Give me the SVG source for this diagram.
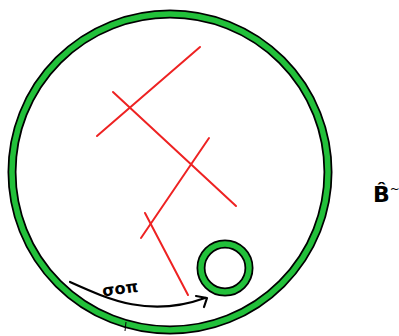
<svg xmlns="http://www.w3.org/2000/svg" width="399" height="336" viewBox="0 0 399 336">
<style>
.ring{fill:none;stroke:#000;stroke-width:9}
.ringin{fill:none;stroke:#22c03a;stroke-width:5.5}
.red{stroke:#ee2222;stroke-width:2;fill:none;stroke-linecap:round}
.ink{fill:none;stroke:#000;stroke-width:2.2;stroke-linecap:round;stroke-linejoin:round}
.lbl{font-family:"DejaVu Sans",sans-serif;font-weight:bold;fill:#000}
</style>
<rect width="399" height="336" fill="#fff"/>
<g id="outer-ring">
<circle cx="170" cy="172" r="158" class="ring"/>
<circle cx="170" cy="172" r="158" class="ringin"/>
<line x1="126" y1="322" x2="125" y2="331" stroke="#000" stroke-width="1"/>
</g>
<g id="inner-ring">
<circle cx="225" cy="268" r="24" class="ring"/>
<circle cx="225" cy="268" r="24" class="ringin"/>
</g>
<g id="connectors">
<line x1="200" y1="47" x2="97" y2="136" class="red"/>
<line x1="113" y1="92" x2="236" y2="206" class="red"/>
<line x1="209" y1="138" x2="141" y2="238" class="red"/>
<line x1="145" y1="213" x2="188" y2="295" class="red"/>
<path d="M70,282 C110,300 150,318 205,298" class="ink"/>
<path d="M196,296 L207,298 L204,307" class="ink"/>
</g>
<g id="label-sigma">
<text x="102" y="294" class="lbl" font-size="16" transform="rotate(-8 120 288)">σoπ</text>
</g>
<g id="label-b">
<text x="373" y="202" class="lbl" font-size="22">B̂<tspan font-size="12" font-weight="normal" dy="-9">~</tspan></text>
</g>
</svg>
